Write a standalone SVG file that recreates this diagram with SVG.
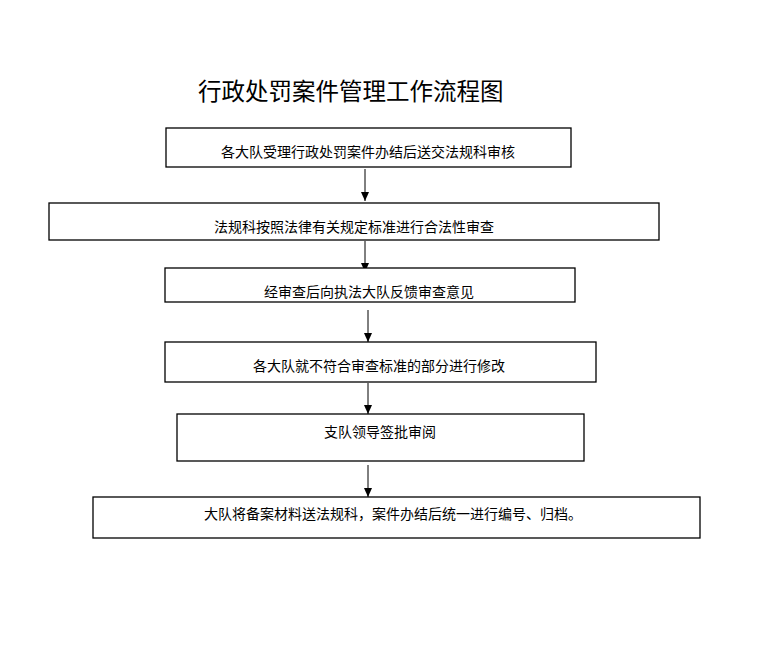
<svg xmlns="http://www.w3.org/2000/svg" width="766" height="661" viewBox="0 0 766 661">
<defs>
<style>
.box{fill:#fff;stroke:#000;stroke-width:1.3}
.t{font-family:"Noto Sans CJK SC","Noto Sans",sans-serif;font-size:14px;fill:#000;text-anchor:middle}
.title{font-family:"Noto Sans CJK SC","Noto Sans",sans-serif;font-size:23.5px;fill:#000}
.c{stroke:#000;stroke-width:1;fill:none;marker-end:url(#ah)}
</style>
<marker id="ah" markerWidth="9" markerHeight="8" refX="9" refY="4" orient="auto" markerUnits="userSpaceOnUse" viewBox="0 0 9 8">
<path d="M0,0 L9,4 L0,8 Z" fill="#000"/>
</marker>
</defs>
<rect width="766" height="661" fill="#fff"/>
<text class="title" x="198" y="100">行政处罚案件管理工作流程图</text>
<g id="connectors">
<line class="c" x1="365" y1="169" x2="365" y2="201"/>
<line class="c" x1="365" y1="241" x2="365" y2="272"/>
<line class="c" x1="368" y1="310" x2="368" y2="342"/>
<line class="c" x1="368" y1="383" x2="368" y2="414"/>
<line class="c" x1="368" y1="465" x2="368" y2="497"/>
</g>
<g id="n1"><rect class="box" x="166" y="128" width="405" height="39"/><text class="t" x="368" y="157">各大队受理行政处罚案件办结后送交法规科审核</text></g>
<g id="n2"><rect class="box" x="49" y="203" width="610" height="37"/><text class="t" x="354" y="232">法规科按照法律有关规定标准进行合法性审查</text></g>
<g id="n3"><rect class="box" x="165" y="268" width="410" height="34"/><text class="t" x="369" y="297">经审查后向执法大队反馈审查意见</text></g>
<g id="n4"><rect class="box" x="165" y="342" width="431" height="40"/><text class="t" x="379" y="371">各大队就不符合审查标准的部分进行修改</text></g>
<g id="n5"><rect class="box" x="177" y="414" width="407" height="47"/><text class="t" x="380" y="437">支队领导签批审阅</text></g>
<g id="n6"><rect class="box" x="93" y="497" width="607" height="41"/><text class="t" x="393" y="519">大队将备案材料送法规科，案件办结后统一进行编号、归档。</text></g>
</svg>
